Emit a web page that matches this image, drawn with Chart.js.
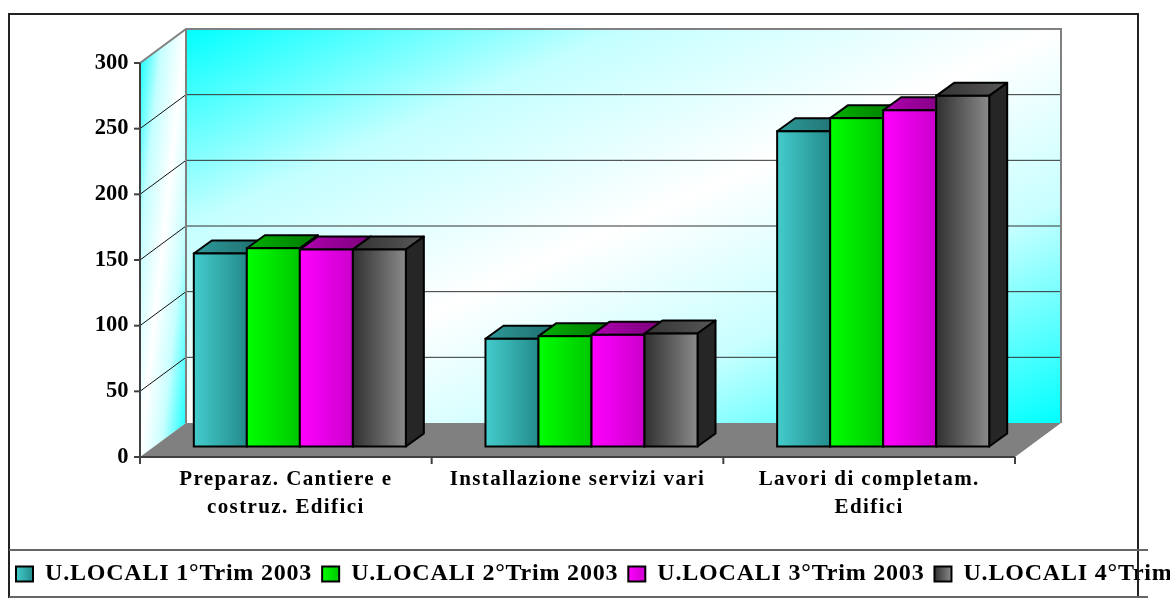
<!DOCTYPE html>
<html>
<head>
<meta charset="utf-8">
<script src="https://cdn.jsdelivr.net/npm/chart.js@4.4.0/dist/chart.umd.min.js"></script>
<style>
html, body { margin: 0; padding: 0; background: #fff; overflow: hidden; }
#wrap { position: relative; width: 1300px; height: 598px; }
</style>
</head>
<body>
<div id="wrap"><canvas id="myChart"></canvas></div>
<script>
const categorie = [
    ['Preparaz. Cantiere e', 'costruz. Edifici'],
    'Installazione servizi vari',
    ['Lavori di completam.', 'Edifici']
];
const nomiSerie = ['U.LOCALI 1°Trim 2003', 'U.LOCALI 2°Trim 2003', 'U.LOCALI 3°Trim 2003', 'U.LOCALI 4°Trim 2003'];
const trim1 = [147, 82, 240];
const trim2 = [151, 84, 250];
const trim3 = [150, 85, 256];
const trim4 = [150, 86, 267];
const yMax = 300;
const yStep = 50;

// colori: fronte (sx -> dx), tetto, fianco
const colFronte = [['#44cccc', '#238b8b'], ['#00ff00', '#00c800'], ['#ff00ff', '#cc00cc'], ['#303030', '#8a8a8a']];
const colTetto = [['#2e9a9a', '#1f6c6c'], ['#00b000', '#007a00'], ['#b000b0', '#7a007a'], ['#333333', '#575757']];
const colFianco = ['#1b6262', '#006400', '#640064', '#262626'];

// prospettiva
const PROF_X = 46, PROF_Y = 34;   // profondita pavimento / pareti
const BAR_DX = 18, BAR_DY = 13;   // profondita barre
const OFF_X = 14, OFF_Y = 10.5;   // barre rispetto al bordo anteriore
const SPAZIO_LEG = '0.8px';
const SPAZIO_X = '1.4px';

const ctx = document.getElementById('myChart');

function gradDiag(c, x0, y0, w, h) {
    // diagonale: angoli alto-sx e basso-dx ciano, bianco lungo l'altra diagonale
    const d2 = w * w + h * h;
    const f = 2 * w * h / d2;
    const g = c.createLinearGradient(x0, y0, x0 + h * f, y0 + w * f);
    g.addColorStop(0, '#00ffff');
    g.addColorStop(0.25, '#c4ffff');
    g.addColorStop(0.5, '#ffffff');
    g.addColorStop(0.72, '#c8ffff');
    g.addColorStop(1, '#00ffff');
    return g;
}

function poly(c, pts, fill, stroke, lw) {
    c.beginPath();
    c.moveTo(pts[0][0], pts[0][1]);
    for (let i = 1; i < pts.length; i++) c.lineTo(pts[i][0], pts[i][1]);
    c.closePath();
    if (fill) { c.fillStyle = fill; c.fill(); }
    if (stroke) { c.strokeStyle = stroke; c.lineWidth = lw || 1; c.stroke(); }
}

function line(c, x1, y1, x2, y2, col, lw) {
    c.beginPath();
    c.moveTo(x1, y1);
    c.lineTo(x2, y2);
    c.strokeStyle = col;
    c.lineWidth = lw;
    c.stroke();
}

function spaziatura(scala, valore) {
    if (!scala || scala._patch) return;
    const orig = scala.drawLabels;
    scala.drawLabels = function (area) {
        const c = this.ctx;
        const prev = c.letterSpacing;
        c.letterSpacing = valore;
        orig.call(this, area);
        c.letterSpacing = prev;
    };
    scala._patch = true;
}

const scena3d = {
    id: 'scena3d',
    beforeLayout(chart) {
        chart.ctx.letterSpacing = SPAZIO_LEG;
    },
    afterLayout(chart) {
        spaziatura(chart.scales.y, '0px');
        spaziatura(chart.scales.x, SPAZIO_X);
    },
    beforeDraw(chart) {
        const c = chart.ctx;
        c.letterSpacing = SPAZIO_LEG;
        const lg = chart.legend;
        if (lg && lg.legendHitBoxes) {
            lg.legendItems.forEach((it, i) => {
                const hb = lg.legendHitBoxes[i];
                if (!hb) return;
                const g = c.createLinearGradient(hb.left, 0, hb.left + 17, 0);
                g.addColorStop(0, colFronte[i][0]);
                g.addColorStop(1, colFronte[i][1]);
                it.fillStyle = g;
            });
        }
    },
    beforeDatasetsDraw(chart) {
        const c = chart.ctx;
        const xs = chart.scales.x, ys = chart.scales.y;
        const fl = xs.left - OFF_X, fr = xs.right - OFF_X;
        const yF = v => ys.getPixelForValue(v) + OFF_Y;
        const top = yF(yMax), bot = yF(0);
        c.save();
        // parete di fondo
        const bl = fl + PROF_X, br = fr + PROF_X, bt = top - PROF_Y, bb = bot - PROF_Y;
        c.fillStyle = gradDiag(c, bl, bt, br - bl, bb - bt);
        c.fillRect(bl, bt, br - bl, bb - bt);
        // parete laterale
        poly(c, [[fl, top], [bl, bt], [bl, bb], [fl, bot]], gradDiag(c, fl, bt, PROF_X, bot - bt));
        // pavimento
        poly(c, [[fl, bot], [bl, bb], [br, bb], [fr, bot]], '#808080');
        // griglia
        for (let v = yStep; v < yMax; v += yStep) {
            const y = yF(v);
            line(c, fl, y, bl, y - PROF_Y, '#111', 1);
            line(c, bl, y - PROF_Y, br, y - PROF_Y, '#333', 1);
        }
        // bordi pareti
        c.lineJoin = 'miter';
        c.beginPath();
        c.moveTo(fl, top); c.lineTo(bl, bt); c.lineTo(br, bt); c.lineTo(br, bb);
        c.strokeStyle = '#808080'; c.lineWidth = 2; c.stroke();
        line(c, bl, bt, bl, bb, '#808080', 2);
        // assi anteriori
        line(c, fl, top, fl, bot + 1, '#404040', 2);
        line(c, fl - 1, bot, fr, bot, '#404040', 2);
        for (let v = 0; v <= yMax; v += yStep) line(c, fl - 6, yF(v), fl, yF(v), '#404040', 2);
        const n = categorie.length;
        for (let i = 0; i <= n; i++) {
            const x = fl + i * (fr - fl) / n;
            line(c, x, bot, x, bot + 7, '#404040', 2);
        }
        // tetti e fianchi delle barre
        const metas = chart.data.datasets.map((d, i) => chart.getDatasetMeta(i));
        c.lineJoin = 'round';
        for (let k = 0; k < n; k++) {
            metas.forEach((m, d) => {
                const b = m.data[k];
                const l = b.x - b.width / 2, r = b.x + b.width / 2;
                const gt = c.createLinearGradient(l, 0, r + BAR_DX, 0);
                gt.addColorStop(0, colTetto[d][0]);
                gt.addColorStop(1, colTetto[d][1]);
                poly(c, [[l, b.y], [l + BAR_DX, b.y - BAR_DY], [r + BAR_DX, b.y - BAR_DY], [r, b.y]], gt, '#000', 2);
                poly(c, [[r, b.y], [r + BAR_DX, b.y - BAR_DY], [r + BAR_DX, b.base - BAR_DY], [r, b.base]], colFianco[d], '#000', 2);
            });
        }
        c.restore();
    },
    afterDatasetsDraw(chart) {
        const c = chart.ctx;
        c.save();
        chart.data.datasets.forEach((ds, d) => {
            chart.getDatasetMeta(d).data.forEach(b => {
                const l = b.x - b.width / 2, w = b.width;
                const g = c.createLinearGradient(l, 0, l + w, 0);
                g.addColorStop(0, colFronte[d][0]);
                g.addColorStop(1, colFronte[d][1]);
                c.fillStyle = g;
                c.fillRect(l, b.y, w, b.base - b.y);
                c.strokeStyle = '#000';
                c.lineWidth = 2;
                c.strokeRect(l, b.y, w, b.base - b.y);
            });
        });
        c.restore();
    },
    afterDraw(chart) {
        const c = chart.ctx;
        c.save();
        // riquadro esterno
        line(c, 9, 14, 9, 598, '#222', 2);
        line(c, 8, 14, 1139, 14, '#222', 2);
        line(c, 1138, 13, 1138, 598, '#222', 2);
        // riquadro legenda
        line(c, 9, 550, 1148, 550, '#666', 2);
        line(c, 9, 597, 1148, 597, '#666', 2);
        c.restore();
    }
};

const fontSerif = "'Liberation Serif', 'Times New Roman', serif";

const myChart = new Chart(ctx, {
    type: 'bar',
    data: {
        labels: categorie,
        datasets: [trim1, trim2, trim3, trim4].map((vals, i) => ({
            label: nomiSerie[i],
            data: vals,
            yAxisID: 'y',
            backgroundColor: colFronte[i][0],
            borderColor: '#000',
            borderWidth: 2,
            borderSkipped: false
        }))
    },
    options: {
        responsive: true,
        maintainAspectRatio: false,
        animation: false,
        events: [],
        layout: { padding: { left: 6, top: 52.5, right: 0, bottom: 2 } },
        datasets: { bar: { categoryPercentage: 0.727, barPercentage: 1 } },
        plugins: {
            legend: {
                position: 'bottom',
                align: 'start',
                labels: {
                    boxWidth: 17,
                    boxHeight: 15,
                    padding: 10,
                    color: '#000',
                    font: { family: fontSerif, size: 24, weight: 'bold' }
                }
            },
            tooltip: { enabled: false }
        },
        scales: {
            x: {
                grid: { display: false, drawTicks: false },
                border: { display: false },
                ticks: {
                    color: '#000',
                    padding: 19,
                    maxRotation: 0,
                    autoSkip: false,
                    labelOffset: -OFF_X,
                    font: { family: fontSerif, size: 21, weight: 'bold', lineHeight: 1.35 }
                },
                afterFit: s => { s.height = 105.5; }
            },
            y: {
                min: 0,
                max: yMax,
                grid: { display: false, drawTicks: false },
                border: { display: false },
                ticks: {
                    stepSize: yStep,
                    color: '#000',
                    padding: 25.5,
                    labelOffset: OFF_Y,
                    font: { family: fontSerif, size: 22.5, weight: 'bold' }
                },
                afterFit: s => { s.width = 148; }
            },
            yR: {
                position: 'right',
                grid: { display: false, drawTicks: false },
                border: { display: false },
                ticks: { display: false },
                afterFit: s => { s.width = 271; }
            }
        }
    },
    plugins: [scena3d]
});
</script>
</body>
</html>
